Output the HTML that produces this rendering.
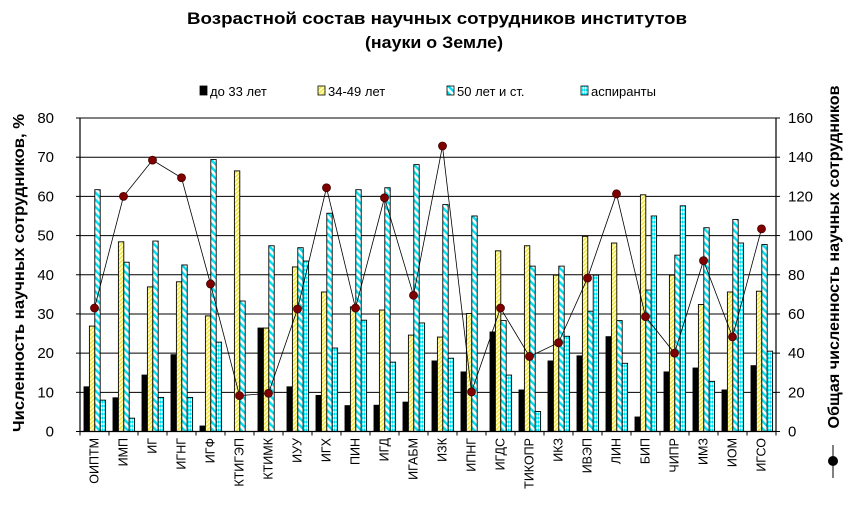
<!DOCTYPE html>
<html><head><meta charset="utf-8">
<style>
html,body{margin:0;padding:0;background:#fff;}
svg{display:block;font-family:"Liberation Sans",Arial,sans-serif;}
</style></head>
<body>
<svg id="chart" width="848" height="509" viewBox="0 0 848 509" xmlns="http://www.w3.org/2000/svg">
<defs>
<pattern id="pYellow" patternUnits="userSpaceOnUse" width="3" height="3" patternTransform="rotate(45)">
<rect width="3" height="3" fill="#ffffc0"/><rect width="1.3" height="3" fill="#f0e040"/></pattern>
<pattern id="pCyan" patternUnits="userSpaceOnUse" width="5" height="5" patternTransform="rotate(-45)">
<rect width="5" height="5" fill="#fff"/><rect width="2.4" height="5" fill="#00e0f0"/></pattern>
<pattern id="pDot" patternUnits="userSpaceOnUse" width="4" height="4">
<rect width="4" height="4" fill="#fff"/><path d="M0 0L2 2L0 4Z M2 0L4 2L2 4Z" fill="#00e0f0"/></pattern>
</defs>
<text x="437" y="24" text-anchor="middle" font-size="17" font-weight="bold" textLength="500" lengthAdjust="spacingAndGlyphs">Возрастной состав научных сотрудников институтов</text>
<text x="434" y="48" text-anchor="middle" font-size="17" font-weight="bold" textLength="138" lengthAdjust="spacingAndGlyphs">(науки о Земле)</text>
<g id="legend" font-size="13"></g>
<g id="grid"></g>
<g id="bars"></g>
<g id="line"></g>
<g id="axes"></g>
<text transform="translate(24,273) rotate(-90)" text-anchor="middle" font-size="16" font-weight="bold" textLength="318" lengthAdjust="spacingAndGlyphs">Численность научных сотрудников, %</text>
<text transform="translate(839,257) rotate(-90)" text-anchor="middle" font-size="16" font-weight="bold" textLength="343" lengthAdjust="spacingAndGlyphs">Общая численность научных сотрудников</text>
<g>
<line x1="833" y1="445" x2="833" y2="478" stroke="#000"/>
<circle cx="833" cy="461" r="5" fill="#000"/>
</g>
</svg>
<script>
const categories=["ОИПТМ","ИМП","ИГ","ИГНГ","ИГФ","КТИГЭП","КТИМК","ИУУ","ИГХ","ПИН","ИГД","ИГАБМ","ИЗК","ИПНГ","ИГДС","ТИКОПР","ИКЗ","ИВЭП","ЛИН","БИП","ЧИПР","ИМЗ","ИОМ","ИГСО"];
const under33=[11.4,8.6,14.4,19.6,1.4,0,26.4,11.4,9.2,6.6,6.7,7.5,18,15.2,25.4,10.6,18,19.3,24.2,3.7,15.2,16.2,10.6,16.8];
const age34to49=[26.9,48.4,36.9,38.2,29.5,66.5,26.4,42,35.6,31.8,31,24.6,24.1,30.1,46.1,47.4,39.9,49.8,48.1,60.4,39.9,32.4,35.6,35.8];
const over50=[61.7,43.2,48.6,42.5,69.4,33.3,47.4,46.9,55.7,61.7,62.2,68.1,57.9,55,28.3,42.2,42.2,30.7,28.3,36.1,45,52,54.1,47.7];
const postgrads=[8,3.4,8.7,8.7,22.8,0,0,43.5,21.3,28.4,17.7,27.7,18.7,0,14.4,5.1,24.3,39.9,17.4,55,57.6,12.8,48.1,20.5];
const totalStaff=[63,120,138.5,129.5,75.3,18.3,19.5,62.5,124.4,63,119.3,69.5,145.7,20.2,63,38.3,45.3,78.3,121.3,58.6,40,87.2,48.3,103.4];
const leftTicks=[0,10,20,30,40,50,60,70,80];
const rightTicks=[0,20,40,60,80,100,120,140,160];
const seriesNames=["до 33 лет","34-49 лет","50 лет и ст.","аспиранты"];

const NS="http://www.w3.org/2000/svg";
const X0=80,X1=776,Y0=431.5,Y1=118;
const bw=(X1-X0)/categories.length;
const yL=v=>Y0-(v/80)*(Y0-Y1);
const yR=v=>Y0-(v/160)*(Y0-Y1);
const xC=i=>X0+bw*i;
function mk(tag,attrs,parent){const e=document.createElementNS(NS,tag);for(const k in attrs)e.setAttribute(k,attrs[k]);parent.appendChild(e);return e;}
const fills=["#000","url(#pYellow)","url(#pCyan)","url(#pDot)"];
const series=[under33,age34to49,over50,postgrads];
const snames=["bar-under-33","bar-34-49","bar-over-50","bar-postgrads"];

const grid=document.getElementById('grid');
leftTicks.forEach(t=>{const l=mk('line',{x1:X0,x2:X1,y1:yL(t),y2:yL(t),stroke:'#000','stroke-width':1},grid);

});

const bars=document.getElementById('bars');
const w=5.4;
categories.forEach((c,i)=>{
 series.forEach((s,j)=>{
  const v=s[i]; if(v<=0) return;
  const x=xC(i)+4+j*w;
  const r=mk('rect',{x:x,y:yL(v),width:w,height:Y0-yL(v),fill:fills[j],stroke:'#000','stroke-width':0.9},bars);
  
  
 });
});

const lg=document.getElementById('line');
const pts=totalStaff.map((v,i)=>(xC(i)+bw/2)+','+yR(v)).join(' ');
const pl=mk('polyline',{points:pts,fill:'none',stroke:'#000','stroke-width':0.8},lg);


totalStaff.forEach((v,i)=>{const c=mk('circle',{cx:xC(i)+bw/2,cy:yR(v),r:4,fill:'#800000',stroke:'#400000','stroke-width':0.8},lg);

});

const ax=document.getElementById('axes');
[[X0,Y1,X0,Y0],[X1,Y1,X1,Y0],[X0,Y0,X1,Y0]].forEach(a=>{const l=mk('line',{x1:a[0],y1:a[1],x2:a[2],y2:a[3],stroke:'#000','stroke-width':1.2},ax);

});
leftTicks.forEach(t=>{mk('line',{x1:X0-4,x2:X0,y1:yL(t),y2:yL(t),stroke:'#000'},ax);
const tx=mk('text',{x:54,y:yL(t)+5,'text-anchor':'end','font-size':15},ax);tx.textContent=t;

});
rightTicks.forEach(t=>{mk('line',{x1:X1,x2:X1+4,y1:yR(t),y2:yR(t),stroke:'#000'},ax);
const tx=mk('text',{x:788,y:yR(t)+5,'text-anchor':'start','font-size':15},ax);tx.textContent=t;

});
for(let i=0;i<=categories.length;i++){mk('line',{x1:xC(i),x2:xC(i),y1:Y0,y2:Y0+4,stroke:'#000'},ax);}
categories.forEach((c,i)=>{const cx=xC(i)+bw/2+4;
const tx=mk('text',{transform:`translate(${cx},438) rotate(-90)`,'text-anchor':'end','font-size':12.5},ax);tx.textContent=c;

});

const leg=document.getElementById('legend');
const lx=[200,318,447,581];
seriesNames.forEach((n,j)=>{
 const g=mk('g',{},leg);
 
 
 mk('rect',{x:lx[j],y:86,width:7,height:9,fill:fills[j],stroke:'#000','stroke-width':0.8},g);
 const t=mk('text',{x:lx[j]+10,y:96},g);t.textContent=n;
});
</script>
</body></html>
